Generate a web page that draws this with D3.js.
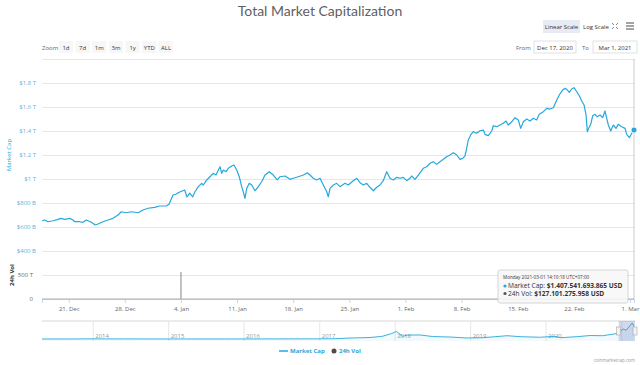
<!DOCTYPE html>
<html>
<head>
<meta charset="utf-8">
<script src="https://cdn.jsdelivr.net/npm/d3@7"></script>
<style>
    body { margin: 0; background: #fff; }
    svg { display: block; font-family: "Open Sans", sans-serif; }
</style>
</head>
<body>
<div id="chart"></div>
<script>
/* *******************************************************
   Data (market cap in billions USD, days since 17 Dec 2020)
******************************************************* */
const capDays = [0.67, 1.00, 1.42, 2.04, 2.66, 3.00, 3.50, 4.12, 4.53, 4.74, 5.37, 5.78, 6.19, 6.82, 7.31, 7.65,
    8.27, 8.90, 9.52, 10.15, 10.56, 11.18, 11.81, 12.64, 13.26, 13.89, 14.72, 15.35, 16.17, 16.51, 17.01, 17.42,
    17.84, 18.46, 18.75, 19.09, 19.46, 19.75, 20.16, 20.58, 20.78, 21.21, 21.62, 22.03, 22.37, 22.66, 22.87, 23.08,
    23.28, 23.62, 23.90, 24.33, 24.61, 24.95, 25.27, 25.57, 25.77, 25.98, 26.20, 26.52, 26.82, 27.23, 27.64, 28.07,
    28.48, 29.02, 29.51, 30.01, 30.35, 30.97, 31.60, 32.01, 32.63, 33.26, 33.76, 34.09, 34.50, 34.93, 35.34, 35.75,
    36.18, 36.37, 36.59, 37.00, 37.42, 37.83, 38.46, 38.87, 39.49, 39.92, 40.33, 40.74, 41.16, 41.57, 41.99, 42.41,
    42.82, 43.23, 43.66, 44.07, 44.48, 44.90, 45.32, 45.73, 46.15, 46.56, 46.77, 47.19, 47.60, 48.22, 48.65, 49.06,
    49.47, 49.89, 50.30, 50.72, 51.14, 51.55, 51.96, 52.39, 52.80, 53.14, 53.42, 53.63, 53.83, 54.13, 54.46, 54.88,
    55.29, 55.71, 55.92, 56.33, 56.76, 56.95, 57.38, 57.79, 58.20, 58.54, 58.82, 59.25, 59.66, 60.07, 60.37, 60.70,
    61.12, 61.53, 61.94, 62.36, 62.69, 63.19, 63.61, 64.02, 64.44, 64.77, 65.18, 65.61, 65.90, 66.18, 66.43, 66.73,
    67.02, 67.36, 67.68, 67.98, 68.27, 68.52, 68.68, 68.85, 69.10, 69.35, 69.64, 69.92, 70.26, 70.60, 70.88, 71.10,
    71.30, 71.60, 71.92, 72.26, 72.54, 72.97, 73.38, 73.59, 73.92, 74.22, 74.50];
const capValues = [652, 658, 644, 652, 664, 672, 664, 672, 658, 644, 644, 639, 658, 639, 617, 625,
    644, 658, 672, 700, 727, 719, 727, 719, 742, 756, 764, 775, 775, 789, 867, 875,
    892, 908, 850, 883, 852, 894, 936, 964, 950, 992, 1019, 1047, 1033, 1075, 1102, 1047,
    1075, 1061, 1089, 1108, 1117, 1075, 1019, 936, 894, 839, 922, 964, 950, 902, 936, 977,
    1033, 1061, 1033, 992, 1019, 1025, 997, 1006, 1019, 1033, 1052, 1033, 1006, 992, 1006, 950,
    894, 852, 922, 950, 964, 936, 964, 950, 986, 1006, 969, 950, 964, 931, 902, 931,
    950, 986, 1061, 1006, 992, 1014, 1006, 1014, 986, 1006, 1025, 997, 1033, 1089, 1102, 1131,
    1144, 1122, 1144, 1164, 1186, 1200, 1219, 1200, 1164, 1172, 1192, 1256, 1325, 1367, 1394, 1381,
    1402, 1408, 1372, 1361, 1400, 1444, 1436, 1450, 1464, 1483, 1450, 1477, 1511, 1492, 1422, 1477,
    1500, 1483, 1506, 1492, 1539, 1561, 1589, 1583, 1594, 1644, 1700, 1742, 1756, 1742, 1722, 1750,
    1761, 1727, 1694, 1650, 1617, 1533, 1394, 1422, 1456, 1527, 1539, 1519, 1533, 1511, 1567, 1506,
    1450, 1400, 1450, 1422, 1456, 1436, 1422, 1372, 1344, 1381, 1408];

// 24h volume in billions USD (one glitch value on 4 Jan)
const volDays = [0.67, 4, 8, 12, 16, 17.98, 18, 18.02, 22, 26, 30, 35, 40, 45, 50, 55, 60, 65, 70, 74.5];
const volValues = [150, 160, 170, 190, 240, 260, 562000, 280, 250, 230, 180, 170, 160, 190, 220, 260, 200, 240, 230, 127];

// navigator: whole history, billions USD
const navDates = ["2013-04-28", "2013-10-01", "2013-12-01", "2014-03-01", "2014-06-01", "2014-12-01", "2015-06-01",
    "2015-11-01", "2016-06-01", "2016-12-01", "2017-03-01", "2017-06-01", "2017-09-01", "2017-11-01", "2017-12-15",
    "2018-01-07", "2018-02-06", "2018-03-01", "2018-05-01", "2018-07-01", "2018-10-01", "2018-12-15", "2019-03-01",
    "2019-06-26", "2019-09-01", "2019-12-01", "2020-02-13", "2020-03-13", "2020-06-01", "2020-08-01", "2020-10-01",
    "2020-11-25", "2020-12-17", "2021-01-08", "2021-01-22", "2021-02-21", "2021-03-01"];
const navValues = [1.5, 2, 15, 8, 9, 4.5, 3.5, 5, 10, 14, 22, 110, 160, 300, 600,
    820, 300, 430, 440, 270, 210, 110, 140, 360, 250, 190, 290, 140, 260, 380, 360,
    550, 650, 1100, 950, 1750, 1410];

const capTicks = [400, 600, 800, 1000, 1200, 1400, 1600, 1800, 2000];
const volTicks = [0, 500000];
const weekTicks = ["2020-12-21", "2020-12-28", "2021-01-04", "2021-01-11", "2021-01-18", "2021-01-25",
    "2021-02-01", "2021-02-08", "2021-02-15", "2021-02-22", "2021-03-01"];
const navYears = [2014, 2015, 2016, 2017, 2018, 2019, 2020, 2021];
const zoomButtons = ["1d", "7d", "1m", "3m", "1y", "YTD", "ALL"];

const tipDate = "Monday 2021-03-01 14:10:18 UTC+07:00";
const tipCap = 1407541693865;
const tipVol = 127101275958;

/* *******************************************************
   Set Chart Parameters
******************************************************* */
let width = 640;
let height = 365;
const blue = "#27a7dc";
const grid = "#e6e6e6";

let svg = d3.select("#chart").append("svg")
    .attr("width", width).attr("height", height);

let plot = {left: 42, right: 634, top: 59, capBottom: 251, bottom: 299};

let start = new Date(2020, 11, 17);
let toDate = d => new Date(start.getTime() + d * 864e5);
let parse = d3.timeParse("%Y-%m-%d");

let capData = capDays.map((d, i) => ({date: toDate(d), value: capValues[i]}));
let volData = volDays.map((d, i) => ({date: toDate(d), value: volValues[i]}));
let navData = navDates.map((d, i) => ({date: parse(d), value: navValues[i]}));

// scales
let x = d3.scaleTime()
    .domain([new Date(2020, 11, 17, 16), new Date(2021, 2, 1, 12)])
    .range([plot.left, plot.right]);
let yCap = d3.scaleLinear().domain([400, 2000]).range([plot.capBottom, plot.top]);
let yVol = d3.scaleLinear().domain([0, 1000000]).range([plot.bottom, plot.capBottom]);

let xNav = d3.scaleTime()
    .domain([parse("2013-04-28"), new Date(2021, 2, 1, 12)])
    .range([plot.left, plot.right]);
let yNav = d3.scaleLinear().domain([0, d3.max(navValues)]).range([339, 323]);

let locale = d3.formatLocale({decimal: ",", thousands: ".", grouping: [3], currency: ["$", ""]});
let capFmt = v => v == 2000 ? "" : (v >= 1000 ? "$" + locale.format(",")(v / 1000) + " T" : "$" + v + " B");

/* *******************************************************
   Title and top buttons
******************************************************* */
svg.append("text")
    .attr("x", 320).attr("y", 16)
    .attr("text-anchor", "middle")
    .attr("font-family", "Lato, sans-serif")
    .attr("font-size", 14)
    .attr("fill", "#5f5f5f")
    .text("Total Market Capitalization");

svg.append("rect").attr("x", 543).attr("y", 20).attr("width", 37).attr("height", 13)
    .attr("fill", "#e6ebf5");
svg.append("text").attr("x", 561.5).attr("y", 29).attr("text-anchor", "middle")
    .attr("font-size", 6).attr("fill", "#333").text("Linear Scale");
svg.append("text").attr("x", 596).attr("y", 29).attr("text-anchor", "middle")
    .attr("font-size", 6).attr("fill", "#333").text("Log Scale");

// fullscreen icon
let fs = svg.append("g").attr("transform", "translate(615,26)")
    .attr("stroke", "#666").attr("stroke-width", 0.8).attr("fill", "none");
[[-3, -3, -1, -1], [3, -3, 1, -1], [-3, 3, -1, 1], [3, 3, 1, 1]].forEach(p => {
    fs.append("line").attr("x1", p[0]).attr("y1", p[1]).attr("x2", p[2]).attr("y2", p[3]);
});
// menu icon
[-3, 0, 3].forEach(dy => {
    svg.append("line").attr("x1", 626).attr("x2", 634).attr("y1", 26 + dy).attr("y2", 26 + dy)
        .attr("stroke", "#666").attr("stroke-width", 1.2);
});

// range selector
svg.append("text").attr("x", 42).attr("y", 50).attr("font-size", 6).attr("fill", "#666").text("Zoom");
let btnX = d3.scalePoint().domain(zoomButtons).range([66, 166]);
let btn = svg.selectAll(".zbtn").data(zoomButtons).enter().append("g").attr("class", "zbtn");
btn.append("rect")
    .attr("x", d => btnX(d) - 7).attr("y", 41).attr("width", 14).attr("height", 12)
    .attr("fill", "#f7f7f7");
btn.append("text")
    .attr("x", d => btnX(d)).attr("y", 50).attr("text-anchor", "middle")
    .attr("font-size", 6).attr("fill", "#333").text(d => d);

svg.append("text").attr("x", 516).attr("y", 50).attr("font-size", 6).attr("fill", "#666").text("From");
svg.append("rect").attr("x", 534).attr("y", 41).attr("width", 42).attr("height", 12)
    .attr("fill", "#fff").attr("stroke", "#ccc").attr("stroke-width", 0.6);
svg.append("text").attr("x", 555).attr("y", 50).attr("text-anchor", "middle")
    .attr("font-size", 6).attr("fill", "#333").text("Dec 17, 2020");
svg.append("text").attr("x", 582).attr("y", 50).attr("font-size", 6).attr("fill", "#666").text("To");
svg.append("rect").attr("x", 593).attr("y", 41).attr("width", 44).attr("height", 12)
    .attr("fill", "#fff").attr("stroke", "#ccc").attr("stroke-width", 0.6);
svg.append("text").attr("x", 615).attr("y", 50).attr("text-anchor", "middle")
    .attr("font-size", 6).attr("fill", "#333").text("Mar 1, 2021");

/* *******************************************************
   Axes + gridlines
******************************************************* */
let capAxis = svg.append("g")
    .attr("transform", `translate(${plot.left},0)`)
    .call(d3.axisLeft(yCap).tickValues(capTicks).tickFormat(capFmt)
        .tickSize(-(plot.right + 1 - plot.left)).tickPadding(6));
capAxis.select(".domain").remove();
capAxis.selectAll("line").attr("stroke", grid);
capAxis.selectAll("text").attr("font-size", 6).attr("fill", "#5cb3d6").attr("font-family", "Open Sans");

let volAxis = svg.append("g")
    .attr("transform", `translate(${plot.left},0)`)
    .call(d3.axisLeft(yVol).tickValues(volTicks)
        .tickFormat(v => v == 0 ? "0" : (v / 1000) + " T")
        .tickSize(-(plot.right + 1 - plot.left)).tickPadding(9));
volAxis.select(".domain").remove();
volAxis.selectAll("line").attr("stroke", grid);
volAxis.selectAll("text").attr("font-size", 6).attr("fill", "#666").attr("font-family", "Open Sans");

let xAxis = svg.append("g")
    .attr("transform", `translate(0,${plot.bottom})`)
    .call(d3.axisBottom(x).tickValues(weekTicks.map(parse))
        .tickFormat(d3.timeFormat("%-d. %b")).tickSize(4).tickPadding(4));
xAxis.select(".domain").attr("stroke", "#ccd6eb");
xAxis.selectAll("line").attr("stroke", "#ccd6eb");
xAxis.selectAll("text").attr("font-size", 6).attr("fill", "#666").attr("font-family", "Open Sans");

// axis titles
svg.append("text")
    .attr("transform", "translate(11,155) rotate(-90)")
    .attr("text-anchor", "middle").attr("font-size", 6).attr("fill", blue)
    .text("Market Cap");
svg.append("text")
    .attr("transform", "translate(14,275) rotate(-90)")
    .attr("text-anchor", "middle").attr("font-size", 6).attr("font-weight", "bold").attr("fill", "#333")
    .text("24h Vol");

/* *******************************************************
   Series
******************************************************* */
let last = capData[capData.length - 1];

// crosshair on the last point
svg.append("line")
    .attr("x1", x(last.date)).attr("x2", x(last.date))
    .attr("y1", plot.top).attr("y2", plot.bottom)
    .attr("stroke", "#ccc").attr("stroke-width", 1);

let volLine = d3.line().x(d => x(d.date)).y(d => yVol(d.value));
svg.append("path").datum(volData)
    .attr("d", volLine)
    .attr("fill", "none").attr("stroke", "#a0a0a0").attr("stroke-width", 0.8);

let capLine = d3.line().x(d => x(d.date)).y(d => yCap(d.value));
svg.append("path").datum(capData)
    .attr("d", capLine)
    .attr("fill", "none").attr("stroke", blue).attr("stroke-width", 1.2)
    .attr("stroke-linejoin", "round");

svg.append("circle")
    .attr("cx", x(last.date)).attr("cy", yCap(last.value)).attr("r", 3)
    .attr("fill", blue).attr("stroke", "#fff").attr("stroke-width", 0.8);

/* *******************************************************
   Tooltip
******************************************************* */
let tip = svg.append("g").attr("transform", "translate(498,270)");
tip.append("rect").attr("width", 130).attr("height", 33).attr("rx", 2)
    .attr("fill", "rgba(247,247,247,0.9)").attr("stroke", "#ccc").attr("stroke-width", 0.8);
tip.append("text").attr("x", 5).attr("y", 9).attr("font-size", 4.6).attr("fill", "#333").text(tipDate);
let money = locale.format(",.0f");
let tipRows = [
    {label: "Market Cap: ", value: "$" + money(tipCap) + " USD", color: blue},
    {label: "24h Vol: ", value: "$" + money(tipVol) + " USD", color: "#555"}
];
tipRows.forEach((r, i) => {
    let yy = 18 + i * 7.5;
    tip.append("circle").attr("cx", 7).attr("cy", yy - 2).attr("r", 1.6).attr("fill", r.color);
    let t = tip.append("text").attr("x", 10).attr("y", yy).attr("font-size", 6.6).attr("fill", "#333");
    t.append("tspan").text(r.label);
    t.append("tspan").attr("font-weight", "bold").text(r.value);
});

/* *******************************************************
   Navigator
******************************************************* */
let nav = svg.append("g");
nav.append("line").attr("x1", plot.left).attr("x2", plot.right + 1).attr("y1", 321).attr("y2", 321)
    .attr("stroke", "#ccc").attr("stroke-width", 0.8);
nav.selectAll(".ygrid").data(navYears).enter().append("line")
    .attr("x1", d => xNav(new Date(d, 0, 1))).attr("x2", d => xNav(new Date(d, 0, 1)))
    .attr("y1", 321).attr("y2", 341).attr("stroke", grid);
nav.selectAll(".ylab").data(navYears.filter(d => xNav(new Date(d, 0, 1)) < plot.right - 15)).enter().append("text")
    .attr("x", d => xNav(new Date(d, 0, 1)) + 2).attr("y", 338)
    .attr("font-size", 6).attr("fill", "#999").text(d => d);

let navArea = d3.area().x(d => xNav(d.date)).y0(341).y1(d => yNav(d.value));
nav.append("path").datum(navData).attr("d", navArea).attr("fill", blue).attr("fill-opacity", 0.06);
let navLine = d3.line().x(d => xNav(d.date)).y(d => yNav(d.value));
nav.append("path").datum(navData).attr("d", navLine)
    .attr("fill", "none").attr("stroke", blue).attr("stroke-width", 0.9);

let m0 = xNav(start), m1 = plot.right + 1;
nav.append("rect").attr("x", m0).attr("y", 321).attr("width", m1 - m0).attr("height", 20)
    .attr("fill", "rgba(102,133,194,0.3)");
[m0, m1].forEach(hx => {
    nav.append("rect").attr("x", hx - 2).attr("y", 327).attr("width", 4).attr("height", 8)
        .attr("fill", "#f2f2f2").attr("stroke", "#999").attr("stroke-width", 0.5);
});

/* *******************************************************
   Legend + credits
******************************************************* */
svg.append("line").attr("x1", 279).attr("x2", 288).attr("y1", 351).attr("y2", 351)
    .attr("stroke", blue).attr("stroke-width", 1.5);
svg.append("text").attr("x", 290).attr("y", 353).attr("font-size", 6).attr("font-weight", "bold")
    .attr("fill", blue).text("Market Cap");
svg.append("circle").attr("cx", 334).attr("cy", 351).attr("r", 2.5).attr("fill", "#4d4d4d");
svg.append("text").attr("x", 339).attr("y", 353).attr("font-size", 6).attr("font-weight", "bold")
    .attr("fill", blue).text("24h Vol");

svg.append("text").attr("x", 635).attr("y", 362).attr("text-anchor", "end")
    .attr("font-size", 4.5).attr("fill", "#999").text("coinmarketcap.com");
</script>
</body>
</html>
